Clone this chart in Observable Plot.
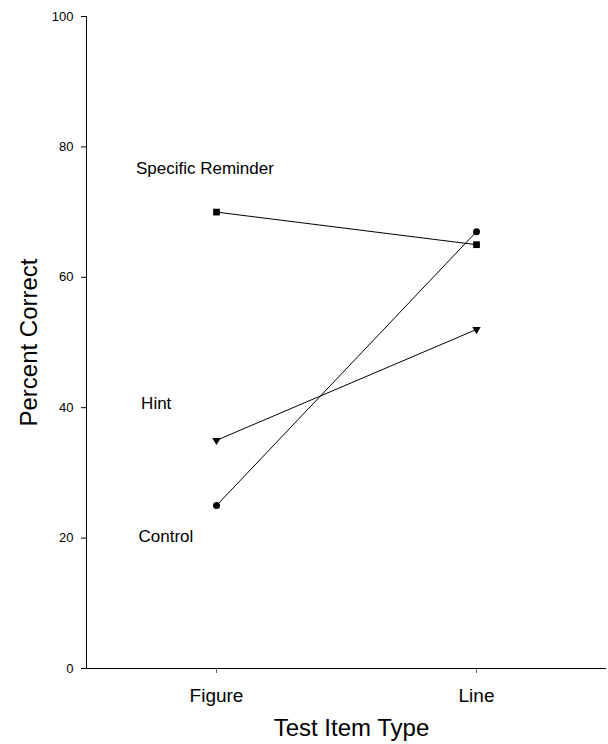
<!DOCTYPE html>
<html><head><meta charset="utf-8">
<script src="https://cdn.jsdelivr.net/npm/d3@7"></script>
<script src="https://cdn.jsdelivr.net/npm/@observablehq/plot@0.6"></script>
<style>body{margin:0;background:#fff;}</style>
</head><body><div id="chart"></div>
<script>
const categories = ["Figure", "Line"];
const categoryPositions = [1, 2];
const seriesNames = ["Specific Reminder", "Hint", "Control"];
const specificReminder = [70, 65];
const hint = [35, 52];
const control = [25, 67];
const seriesSymbols = ["square", "triangle", "circle"];
const seriesRotate = [0, 180, 0];
const seriesRadius = [3.8, 3.1, 3.5];
const labelX = [0.69, 0.71, 0.70];
const labelY = [76.7, 40.6, 20.2];
const yTicks = [0, 20, 40, 60, 80, 100];

const seriesValues = [specificReminder, hint, control];
const data = [];
seriesNames.forEach((s, i) => {
  categories.forEach((c, j) => {
    data.push({series: s, cat: c, x: categoryPositions[j], y: seriesValues[i][j]});
  });
});
const labels = seriesNames.map((s, i) => ({text: s, x: labelX[i], y: labelY[i]}));

const font = "Liberation Sans, Arial, Helvetica, sans-serif";
const marks = [
  Plot.ruleX([0.5], {y1: 0, y2: 100, stroke: "black", strokeWidth: 1}),
  Plot.ruleY([0], {x1: 0.5, x2: 2.5, stroke: "black", strokeWidth: 1}),
  Plot.axisY({ticks: yTicks, tickSize: 5, tickPadding: 8, fontSize: 13, label: null, stroke: "black", fill: "black"}),
  Plot.axisX({ticks: categoryPositions, tickFormat: (d) => categories[categoryPositions.indexOf(d)], tickSize: 5, tickPadding: 15, fontSize: 19, label: null, stroke: "#666", fill: "black"}),
  Plot.line(data, {x: "x", y: "y", z: "series", stroke: "black", strokeWidth: 1}),
];
seriesNames.forEach((s, i) => {
  marks.push(Plot.dot(data.filter(d => d.series === s), {
    x: "x", y: "y", symbol: seriesSymbols[i], r: seriesRadius[i], rotate: seriesRotate[i], fill: "black", stroke: "none"
  }));
});
marks.push(
  Plot.text(labels, {x: "x", y: "y", text: "text", textAnchor: "start", lineAnchor: "middle", fontSize: 17, fill: "black"}),
  Plot.text(["Percent Correct"], {frameAnchor: "left", textAnchor: "middle", rotate: -90, lineAnchor: "bottom", dx: -50, fontSize: 24, fill: "black"}),
  Plot.text(["Test Item Type"], {frameAnchor: "bottom", textAnchor: "middle", lineAnchor: "bottom", dy: 67, dx: 5, fontSize: 24, fill: "black"})
);

const chart = Plot.plot({
  width: 608,
  height: 744,
  marginLeft: 86,
  marginRight: 2,
  marginTop: 16,
  marginBottom: 76,
  style: {fontFamily: font, background: "white", color: "black", overflow: "visible"},
  x: {domain: [0.5, 2.5]},
  y: {domain: [0, 100]},
  marks
});
document.getElementById("chart").appendChild(chart);
</script>
</body></html>
